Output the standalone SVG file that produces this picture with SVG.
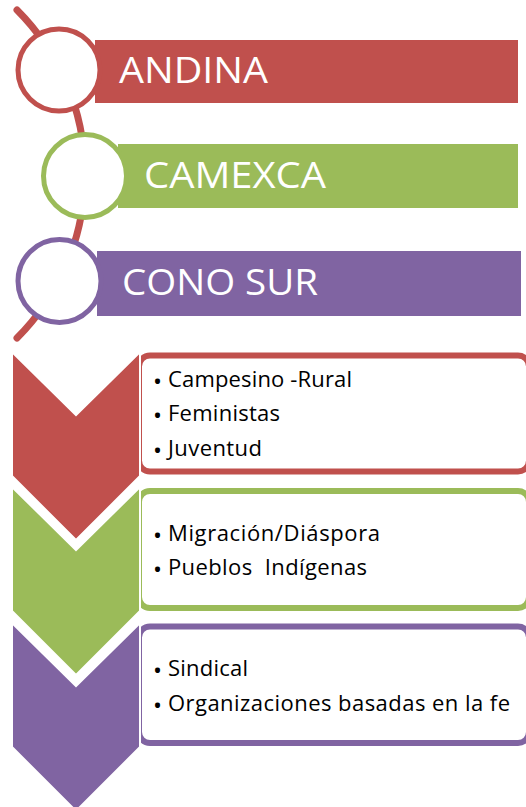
<svg xmlns="http://www.w3.org/2000/svg" width="526" height="807" viewBox="0 0 526 807">
  <style>
    .hdr { font-family: "Open Sans", "Noto Sans", sans-serif; font-size: 36px; fill: #ffffff; }
    .item { font-family: "Open Sans", "Noto Sans", sans-serif; font-size: 22px; fill: #000000; }
    .bul { font-size: 24px; }
    .ring { fill: #ffffff; stroke-width: 5; }
    .box { fill: #ffffff; stroke-width: 6; }
    .chev { stroke: #ffffff; stroke-width: 2; stroke-linejoin: miter; }
  </style>
  <g id="connectors">
    <path d="M17,10 A232,232 0 0 1 17,338" fill="none" stroke="#C0504D" stroke-width="7" stroke-linecap="round"/>
  </g>
  <g id="andina">
    <rect x="95" y="40" width="423" height="63" fill="#C0504D"/>
    <circle cx="59" cy="70" r="41" class="ring" stroke="#C0504D"/>
    <text x="119" y="83" class="hdr" textLength="149" lengthAdjust="spacingAndGlyphs">ANDINA</text>
  </g>
  <g id="camexca">
    <rect x="118" y="144" width="400" height="64" fill="#9BBB59"/>
    <circle cx="85" cy="176" r="41.5" class="ring" stroke="#9BBB59"/>
    <text x="144" y="188" class="hdr" textLength="182" lengthAdjust="spacingAndGlyphs">CAMEXCA</text>
  </g>
  <g id="cono-sur">
    <rect x="97" y="251" width="424" height="65" fill="#8064A2"/>
    <circle cx="59.5" cy="281" r="41.5" class="ring" stroke="#8064A2"/>
    <text x="122" y="295" class="hdr" textLength="196" lengthAdjust="spacingAndGlyphs">CONO SUR</text>
  </g>
  <g id="grupo-1">
    <rect x="139" y="355.5" width="390" height="116" rx="11" class="box" stroke="#C0504D"/>
    <polygon points="12,352 76,415 140,352 140,476 76,540 12,476" fill="#C0504D" class="chev"/>
    <text x="153" y="387" class="item"><tspan class="bul" dy="3">•</tspan><tspan x="168" dy="-3" textLength="184">Campesino -Rural</tspan></text>
    <text x="153" y="421" class="item"><tspan class="bul" dy="3">•</tspan><tspan x="168" dy="-3" textLength="112">Feministas</tspan></text>
    <text x="153" y="456" class="item"><tspan class="bul" dy="3">•</tspan><tspan x="168" dy="-3" textLength="94">Juventud</tspan></text>
  </g>
  <g id="grupo-2">
    <rect x="139" y="491" width="390" height="117" rx="11" class="box" stroke="#9BBB59"/>
    <polygon points="12,487 76,550 140,487 140,611 76,675 12,611" fill="#9BBB59" class="chev"/>
    <text x="153" y="541" class="item"><tspan class="bul" dy="3">•</tspan><tspan x="168" dy="-3" textLength="212">Migración/Diáspora</tspan></text>
    <text x="153" y="575" class="item" xml:space="preserve"><tspan class="bul" dy="3">•</tspan><tspan x="168" dy="-3" textLength="199">Pueblos  Indígenas</tspan></text>
  </g>
  <g id="grupo-3">
    <rect x="139" y="626.5" width="390" height="116.5" rx="11" class="box" stroke="#8064A2"/>
    <polygon points="12,623 76,686 140,623 140,747 76,811 12,747" fill="#8064A2" class="chev"/>
    <text x="153" y="676" class="item"><tspan class="bul" dy="3">•</tspan><tspan x="168" dy="-3" textLength="80">Sindical</tspan></text>
    <text x="153" y="711" class="item"><tspan class="bul" dy="3">•</tspan><tspan x="168" dy="-3" textLength="342">Organizaciones basadas en la fe</tspan></text>
  </g>
</svg>
